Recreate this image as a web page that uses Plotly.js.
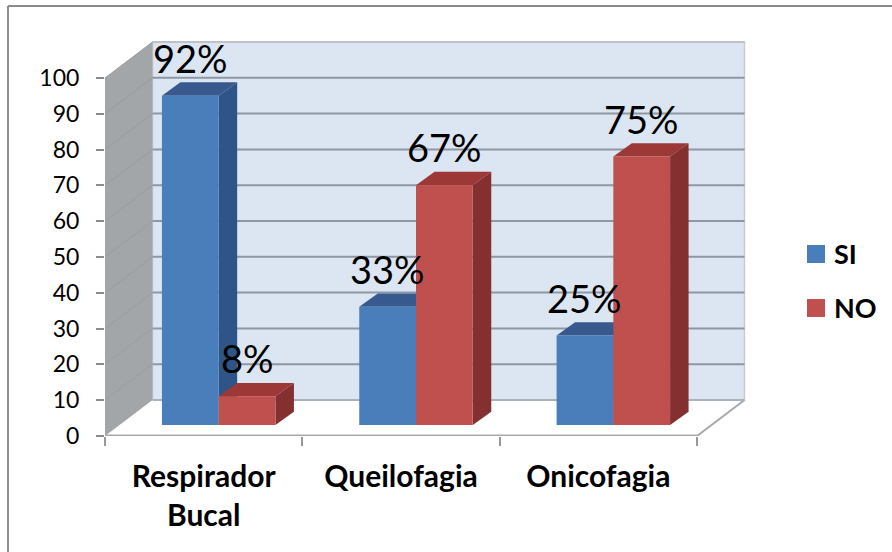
<!DOCTYPE html>
<html>
<head>
<meta charset="utf-8">
<script src="https://cdn.plot.ly/plotly-3.0.1.min.js"></script>
<style>html,body{margin:0;padding:0;background:#fff}#chart{width:892px;height:552px}</style>
</head>
<body>
<div id="chart"></div>
<script>
var categories = ["Respirador<br>Bucal", "Queilofagia", "Onicofagia"];
var seriesNames = ["SI", "NO"];
var siValues = [92, 33, 25];
var noValues = [8, 67, 75];
var yTicks = [0, 10, 20, 30, 40, 50, 60, 70, 80, 90, 100];
var colors = {
  si: {front: "#4A7EBB", side: "#2F5588", top: "#37598E"},
  no: {front: "#C0504D", side: "#843031", top: "#9C3835"}
};

var FONT = "Lato, Liberation Sans, Arial, sans-serif";
var W = 892, H = 552, mL = 105, mR = 142, mT = 40, mB = 116;
var pxPerX = 197.33, pxPerY = 3.58;
var plotW = W - mL - mR, plotH = H - mT - mB;
var xMin = -0.5, xMax = xMin + plotW / pxPerX, yMax = plotH / pxPerY;
var catN = categories.length;
var wallDx = 47.5 / pxPerX, wallDy = 36 / pxPerY;
var barDx = 18.5 / pxPerX, barDy = 13.3 / pxPerY;
var planeDx = 15 / pxPerX, planeDy = 11 / pxPerY;
var barW = 56.75 / pxPerX;
var xRight = xMin + catN;
var idx = categories.map(function (c, i) { return i; });
var barX = idx.map(function (i) { return i + planeDx; });

function pth(pts, fill, lineColor, lineWidth) {
  var d = pts.map(function (p, i) { return (i ? "L" : "M") + p[0] + "," + p[1]; }).join(" ") + " Z";
  return {type: "path", path: d, xref: "x", yref: "y", layer: "below", fillcolor: fill,
    line: {color: lineColor || fill, width: lineWidth === undefined ? 0 : lineWidth}};
}
function seg(x0, y0, x1, y1, color, width) {
  return {type: "line", xref: "x", yref: "y", layer: "below", x0: x0, y0: y0, x1: x1, y1: y1,
    line: {color: color, width: width}};
}
function px(x) { return (x - mL) / plotW; }
function py(y) { return 1 - (y - mT) / plotH; }

var shapes = [];
// back wall
shapes.push(pth([[xMin + wallDx, wallDy], [xRight + wallDx, wallDy], [xRight + wallDx, 100 + wallDy], [xMin + wallDx, 100 + wallDy]], "#DCE6F2", "#C3CBD4", 1.5));
// floor
shapes.push(pth([[xMin, 0], [xRight, 0], [xRight + wallDx, wallDy], [xMin + wallDx, wallDy]], "#FFFFFF"));
shapes.push(seg(xRight, 0, xRight + wallDx, wallDy, "#A6A9AC", 2));
// side wall
shapes.push(pth([[xMin, 0], [xMin + wallDx, wallDy], [xMin + wallDx, 100 + wallDy], [xMin, 100]], "#A3A6A9"));
// grid lines on back and side wall
yTicks.forEach(function (v) {
  var c = v === 100 ? "#BEC2C6" : "#8E97A3";
  shapes.push(seg(xMin + wallDx, v + wallDy, xRight + wallDx, v + wallDy, v === 0 ? "#A9B2BB" : c, 2));
  if (v > 0) shapes.push(seg(xMin, v, xMin + wallDx, v + wallDy, "#999C9F", 1));
});
// bar sides and tops
function faces(values, offset, col) {
  values.forEach(function (v, i) {
    var l = barX[i] + offset, r = l + barW, b = planeDy, t = v + planeDy;
    shapes.push(pth([[r, b], [r + barDx, b + barDy], [r + barDx, t + barDy], [r, t]], col.side));
    shapes.push(pth([[l, t], [r, t], [r + barDx, t + barDy], [l + barDx, t + barDy]], col.top));
  });
}
faces(siValues, -barW, colors.si);
faces(noValues, 0, colors.no);

// outer frame
var frame = "#8C8C8C";
shapes.push({type: "line", xref: "paper", yref: "paper", x0: px(8), x1: px(8), y0: py(552), y1: py(6), line: {color: frame, width: 2}});
shapes.push({type: "line", xref: "paper", yref: "paper", x0: px(8), x1: px(892), y0: py(6), y1: py(6), line: {color: frame, width: 2}});
// legend swatches
[[245, colors.si.front], [299, colors.no.front]].forEach(function (s) {
  shapes.push({type: "rect", xref: "paper", yref: "paper", x0: px(807), x1: px(825), y0: py(s[0] + 18), y1: py(s[0]), fillcolor: s[1], line: {width: 0}});
});

var annotations = [];
function labels(values, offset) {
  values.forEach(function (v, i) {
    annotations.push({xref: "x", yref: "y", x: barX[i] + offset, y: v + planeDy, text: v + "%", showarrow: false,
      yanchor: "middle", xanchor: "center", yshift: 38,
      font: {family: FONT, size: 38, color: "#000"}});
  });
}
labels(siValues, -barW / 2);
labels(noValues, barW / 2);
seriesNames.forEach(function (n, i) {
  annotations.push({xref: "paper", yref: "paper", x: px(833), y: py(253 + i * 54), text: n, showarrow: false,
    xanchor: "left", yanchor: "middle", xshift: -1,
    font: {family: FONT, size: 27, color: "#000", weight: 700}});
});

var traces = [
  {type: "bar", name: seriesNames[0], x: barX, y: siValues, base: planeDy, marker: {color: colors.si.front}, showlegend: false, cliponaxis: false},
  {type: "bar", name: seriesNames[1], x: barX, y: noValues, base: planeDy, marker: {color: colors.no.front}, showlegend: false, cliponaxis: false}
];

var layout = {
  width: W, height: H, margin: {l: mL, r: mR, t: mT, b: mB, pad: 0},
  paper_bgcolor: "#fff", plot_bgcolor: "rgba(0,0,0,0)",
  barmode: "group", bargap: 0.425, bargroupgap: 0, showlegend: false,
  xaxis: {
    range: [xMin, xMax], tickmode: "array", tickvals: idx, ticktext: categories, ticks: "", showgrid: false, zeroline: false,
    showline: false, ticklabelstandoff: 20,
    tickfont: {family: FONT, size: 30, color: "#000", weight: 700},
    minor: {tickmode: "array", tickvals: [-0.5, 0.5, 1.5, 2.5], ticks: "outside", ticklen: 9, tickwidth: 2, tickcolor: "#9A9A9A", showgrid: false},
    tickangle: 0
  },
  yaxis: {
    range: [0, yMax], tickmode: "array", tickvals: yTicks, ticks: "outside", ticklen: 8, tickwidth: 2, tickcolor: "#8C8C8C",
    showgrid: false, zeroline: false, showline: false, ticklabelstandoff: 12,
    tickfont: {family: FONT, size: 23, color: "#000"}
  },
  shapes: shapes.concat([seg(xMin, 0, xRight, 0, "#A6A9AC", 3)]),
  annotations: annotations
};
Plotly.newPlot("chart", traces, layout, {displayModeBar: false, staticPlot: true});
</script>
</body>
</html>
